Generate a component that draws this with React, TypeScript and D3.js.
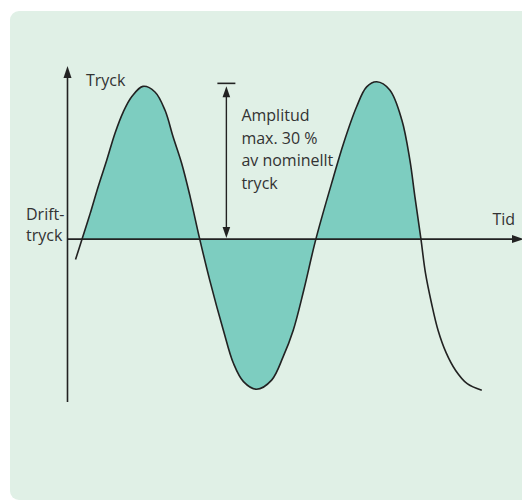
import React from 'react'
import * as d3 from 'd3'

// pressure curve: time (arb. units) and pressure in % of nominal
const times = [1.6, 2.9, 4.5, 6.1, 7.8, 9.45, 11.1, 12.8, 15.0, 17.4, 19.4, 21.0, 22.7, 24.4, 26.3, 28.3, 31.0, 33.0, 35.0, 37.6, 40.6, 42.9, 44.9, 47.0, 49.4, 52.9, 54.9, 57.5, 59.5, 61.5, 64.1, 66.5, 68.1, 69.1, 70.3, 71.2, 72.4, 73.7, 75.3, 77.2, 79.5, 82.4]
const pressures = [96.0, 100, 105.0, 110.3, 115.5, 120.8, 125.0, 128.0, 130.0, 128.9, 125.3, 120.1, 114.9, 108.3, 100, 91.9, 82.1, 75.6, 72.0, 70.5, 72.3, 76.9, 82.1, 90.0, 100, 112.2, 118.8, 126.0, 129.9, 130.9, 129.3, 123.4, 115.5, 108.3, 100, 93.3, 87.4, 82.1, 77.7, 74.2, 71.6, 70.3]

const nominal = 100
const amplitudeMax = 30
const fillStart = 2.9
const fillEnd = 70.3
const amplitudeAt = 31.6

const amplitudeLines = ['Amplitud', 'max. 30 %', 'av nominellt', 'tryck']
const driftLines = ['Drift-', 'tryck']
const yLabel = 'Tryck'
const xLabel = 'Tid'

const W = 522
const H = 502

export default function App() {
  const x = d3.scaleLinear().domain([0, 90]).range([67.5, 520])
  const y = d3.scaleLinear().domain([68, 134]).range([402, 66])

  const pts: [number, number][] = times.map((t, i) => [t, pressures[i]])

  const curve = d3.curveCatmullRom.alpha(0.5)

  const line = d3.line<[number, number]>()
    .x(d => x(d[0]))
    .y(d => y(d[1]))
    .curve(curve)

  const area = d3.area<[number, number]>()
    .x(d => x(d[0]))
    .y0(y(nominal))
    .y1(d => y(d[1]))
    .curve(curve)

  const ax = x(0)
  const ay = y(nominal)
  const ampX = x(amplitudeAt)
  const ampTop = y(nominal + amplitudeMax)
  const font = { fontFamily: '"Open Sans", sans-serif', fontSize: 16, fill: '#333' }

  return (
    <svg width={W} height={H} style={{ position: 'absolute', left: 0, top: 0 }}>
      <defs>
        <clipPath id="fillclip">
          <rect x={x(fillStart)} y={0} width={x(fillEnd) - x(fillStart)} height={H} />
        </clipPath>
      </defs>
      <rect x={10} y={11} width={W + 20} height={489} rx={9} fill="#e0f0e6" />

      <path d={area(pts) || ''} fill="#7dcdc0" clipPath="url(#fillclip)" />

      {/* axes */}
      <line x1={ax} x2={ax} y1={y(68)} y2={y(134) + 10} stroke="#222" strokeWidth={1.6} />
      <path d={`M${ax},${y(134)} l-4,12 h8 z`} fill="#222" />
      <line x1={ax} x2={W - 8} y1={ay} y2={ay} stroke="#222" strokeWidth={1.6} />
      <path d={`M${W + 2},${ay} l-12,-4 v8 z`} fill="#222" />

      <path d={line(pts) || ''} fill="none" stroke="#222" strokeWidth={1.6} />

      {/* amplitude arrow */}
      <line x1={ampX - 9} x2={ampX + 9} y1={ampTop - 3} y2={ampTop - 3} stroke="#222" strokeWidth={1.6} />
      <line x1={ampX} x2={ampX} y1={ampTop + 8} y2={ay - 8} stroke="#222" strokeWidth={1.4} />
      <path d={`M${ampX},${ampTop} l-3.8,11 h7.6 z`} fill="#222" />
      <path d={`M${ampX},${ay - 1} l-3.8,-11 h7.6 z`} fill="#222" />

      {amplitudeLines.map((s, i) => (
        <text key={s} x={ampX + 15} y={121 + i * 22.5} {...font}>{s}</text>
      ))}
      {driftLines.map((s, i) => (
        <text key={s} x={26} y={220 + i * 20.5} {...font}>{s}</text>
      ))}
      <text x={86} y={86} {...font}>{yLabel}</text>
      <text x={492.5} y={225} {...font}>{xLabel}</text>
    </svg>
  )
}
